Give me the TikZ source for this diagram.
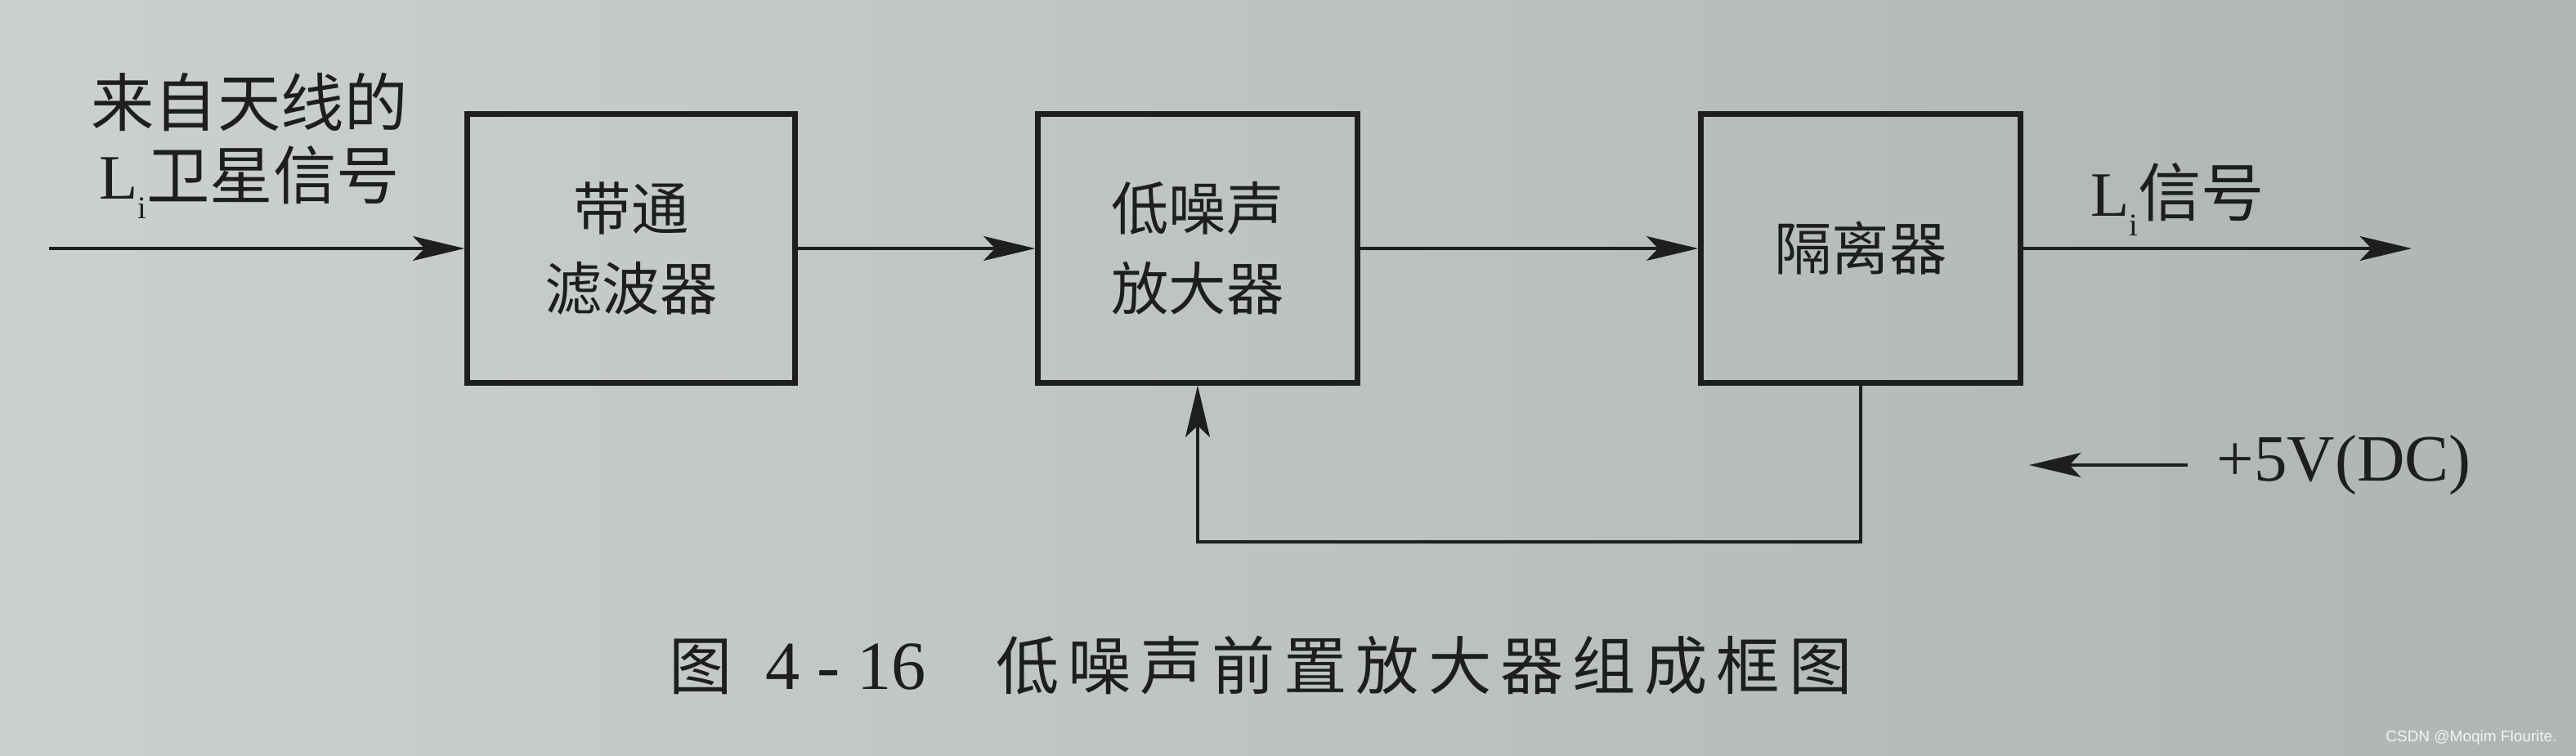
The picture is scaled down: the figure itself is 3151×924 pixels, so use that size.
\documentclass[tikz,border=0pt]{standalone}
\usepackage{fontspec}
\setmainfont{Liberation Serif}
\newfontfamily\cjk{Noto Sans CJK SC}
\newfontfamily\cjkcap[LetterSpace=14]{Noto Sans CJK SC}
\newfontfamily\wmfont{Liberation Sans}
\usetikzlibrary{arrows.meta}
\definecolor{paperL}{RGB}{204,209,207}
\definecolor{paperR}{RGB}{174,181,179}
\definecolor{ink}{RGB}{30,30,30}
\newcommand{\Lsub}{{\rmfamily L\raisebox{-0.3em}{\fontsize{11}{11}\selectfont i}}}

\begin{document}
\begin{tikzpicture}[x=0.01cm,y=-0.01cm,
		blk/.style={draw=ink,line width=2pt,minimum width=3.9cm,minimum height=3.28cm,align=center,text=ink,font=\cjk\fontsize{20}{28}\selectfont},
		sig/.style={draw=ink,line width=1.1pt,-{Stealth[length=18pt,width=8.5pt,inset=4pt]}},
		lbl/.style={text=ink,align=center,font=\cjk\fontsize{22}{25.5}\selectfont}]
			\shade[left color=paperL,right color=paperR] (0,0) rectangle (3151,924);
			\useasboundingbox (0,0) rectangle (3151,924);
			% blocks
			\node[blk,minimum width=4cm] (bpf) at (772,304) {带通\\滤波器};
			\node[blk] (lna) at (1465,304) {低噪声\\放大器};
			\node[blk] (iso) at (2276,304) {隔离器};
			% signal path
			\coordinate (in) at (60,304);
			\coordinate (out) at (2950,304);
			\draw[sig] (in) -- (bpf);
			\draw[sig] (bpf) -- (lna);
			\draw[sig] (lna) -- (iso);
			\draw[sig] (iso) -- (out);
			\draw[sig] (iso.south) -- (iso.south |- 0,663) -| (lna.south);
			% labels
			\node[lbl] (ant) at (305,178) {来自天线的\\\Lsub 卫星信号};
			\node[lbl,anchor=west] (lout) at (2545,244) {\Lsub 信号};
			\node[text=ink,anchor=west,inner xsep=0.35cm,font=\fontsize{23}{26}\selectfont] (dc) at (2676,569) {+5V(DC)};
			\coordinate (dcend) at (2482,569);
			\draw[sig] (dc.west) -- (dcend);
			% caption
			\node[text=ink,anchor=west,inner sep=0pt,font=\fontsize{24}{26}\selectfont] (cap) at (818,814)
				{{\cjk\fontsize{22}{26}\selectfont 图}\hspace{0.4cm}4 - 16\hspace{0.85cm}{\cjkcap\fontsize{22}{26}\selectfont 低噪声前置放大器组成框图}};
			\node[anchor=east,text=white!92!gray,font=\wmfont\fontsize{5.4}{6}\selectfont] (wm) at (3140,903) {CSDN @Moqim Flourite.};
		\end{tikzpicture}
\end{document}
